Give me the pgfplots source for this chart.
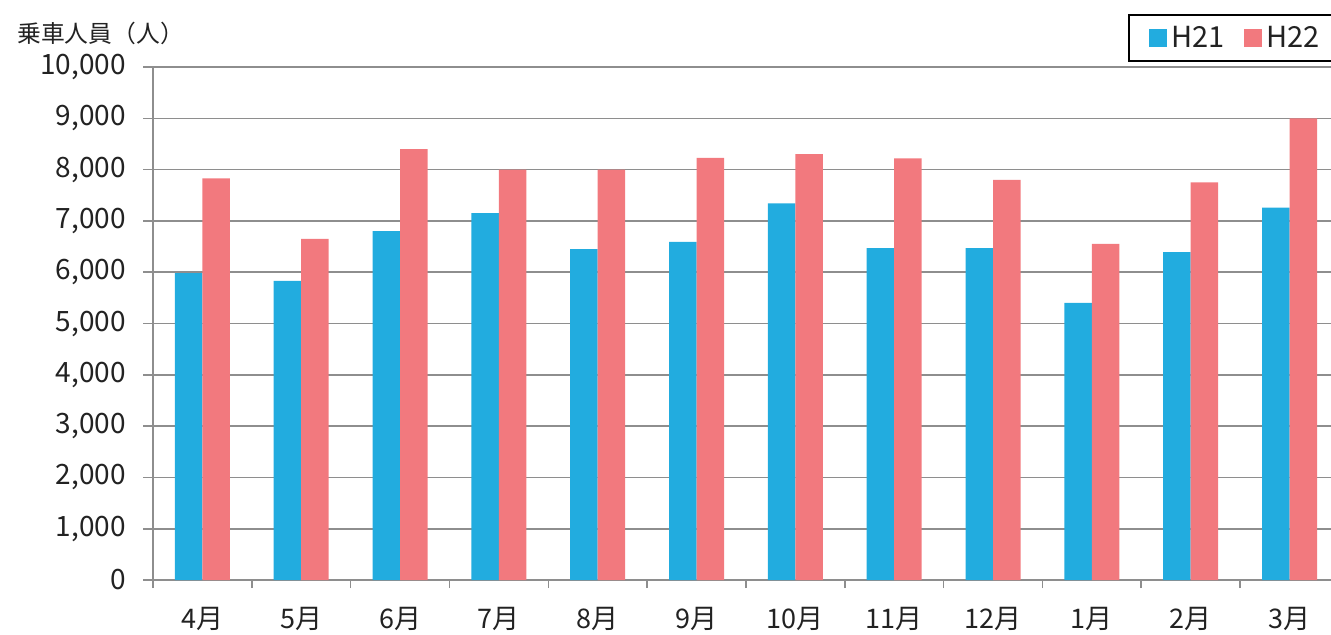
\documentclass[border=0pt]{standalone}
\usepackage{fontspec}
\setmainfont{Noto Sans CJK JP}
\usepackage{pgfplots}
\pgfplotsset{compat=1.18}
\definecolor{barblue}{HTML}{22ACDF}
\definecolor{barred}{HTML}{F2797E}
\definecolor{gridgray}{HTML}{8E8E8E}
\definecolor{textgray}{HTML}{222222}
\begin{document}
\begin{tikzpicture}
\begin{axis}[
  scale only axis, width=589pt, height=256.5pt,
  xmin=-0.5, xmax=11.42, ymin=0, ymax=10000,
  ybar=0pt, bar width=13.75pt,
  axis x line*=bottom, axis y line*=left,
  axis line style={gridgray, line width=0.8pt},
  ymajorgrids, grid style={gridgray, line width=0.8pt},
  xtick={0,...,11},
  xticklabels={4月,5月,6月,7月,8月,9月,10月,11月,12月,1月,2月,3月},
  minor xtick={-0.5,0.5,...,11.5},
  major x tick style={draw=none},
  minor tick length=4pt,
  ytick={0,1000,...,10000},
  major tick length=5pt,
  tick align=outside,
  tick style={gridgray, line width=0.8pt},
  scaled y ticks=false,
  /pgf/number format/.cd, fixed, 1000 sep={,}, assume math mode=true,
  /pgfplots/.cd,
  yticklabel style={font=\fontsize{14}{14}\selectfont, text=textgray, xshift=-5pt},
  xticklabel style={font=\fontsize{13.5}{13.5}\selectfont, text=textgray, yshift=-5pt},
  legend columns=2,
  legend style={at={(0,1)}, anchor=north west, xshift=487.5pt, yshift=26.5pt,
    draw=black, line width=1pt, font=\fontsize{14.5}{14.5}\selectfont,
    text=textgray, inner xsep=10pt, inner ysep=3.5pt},
  /tikz/every even column/.append style={column sep=8pt},
  legend image code/.code={\fill[#1] (0pt,-4.5pt) rectangle (9pt,4.5pt);},
]
\addplot[fill=barblue, draw=none] coordinates {
  (0,5980) (1,5830) (2,6800) (3,7150) (4,6450) (5,6590)
  (6,7340) (7,6470) (8,6470) (9,5400) (10,6390) (11,7260)};
\addplot[fill=barred, draw=none] coordinates {
  (0,7830) (1,6650) (2,8400) (3,8000) (4,8000) (5,8230)
  (6,8300) (7,8220) (8,7800) (9,6550) (10,7750) (11,9000)};
\legend{H21,H22\hspace*{10pt}}
\end{axis}
\node[anchor=west, text=textgray, font=\fontsize{11.9}{11.9}\selectfont, inner sep=0pt]
  at (-68pt, 273.5pt) {乗車人員（人）};
\pgfresetboundingbox
\path[use as bounding box] (-76.5pt,-27pt) rectangle (589pt,290pt);
\end{tikzpicture}
\end{document}
